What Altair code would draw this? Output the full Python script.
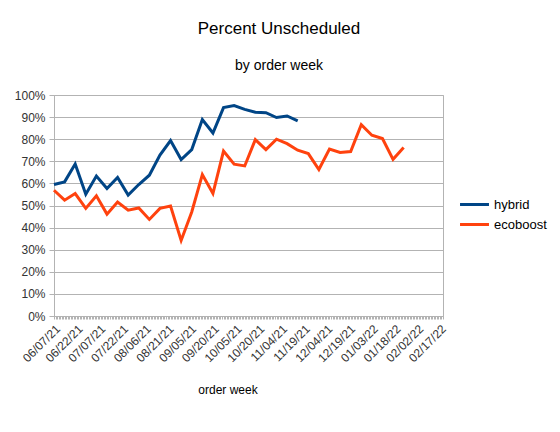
import altair as alt
import pandas as pd

weeks = ["2021-06-07", "2021-06-14", "2021-06-21", "2021-06-28", "2021-07-05", "2021-07-12",
         "2021-07-19", "2021-07-26", "2021-08-02", "2021-08-09", "2021-08-16", "2021-08-23",
         "2021-08-30", "2021-09-06", "2021-09-13", "2021-09-20", "2021-09-27", "2021-10-04",
         "2021-10-11", "2021-10-18", "2021-10-25", "2021-11-01", "2021-11-08", "2021-11-15",
         "2021-11-22", "2021-11-29", "2021-12-06", "2021-12-13", "2021-12-20", "2021-12-27",
         "2022-01-03", "2022-01-10", "2022-01-17", "2022-01-24"]

hybrid = [59.5, 60.7, 68.8, 55.1, 63.3, 57.7, 62.7, 54.7, 59.5, 63.7, 72.8, 79.4,
          70.8, 75.3, 88.9, 82.8, 94.3, 95.2, 93.5, 92.2, 92.0, 89.8, 90.5, 88.3]

ecoboost = [56.9, 52.4, 55.4, 48.7, 54.4, 46.1, 51.6, 47.9, 48.9, 43.7, 48.7, 49.8,
            34.2, 47.1, 64.0, 55.4, 74.6, 68.7, 67.9, 79.8, 75.3, 80.0, 78.0, 75.0,
            73.5, 66.3, 75.5, 74.0, 74.4, 86.6, 81.8, 80.3, 70.9, 76.2]

series = ["hybrid", "ecoboost"]
colors = ["#004586", "#ff420e"]

rows = []
for name, vals in zip(series, [hybrid, ecoboost]):
    for w, v in zip(weeks, vals):
        rows.append({"week": pd.Timestamp(w), "pct": v / 100.0, "series": name})
df = pd.DataFrame(rows)

label_expr = ("(round((datum.value - datetime(2021,5,7)) / 86400000) % 15 == 0) ? "
              "timeFormat(datum.value, '%m/%d/%y') : ''")

chart = alt.Chart(df).mark_line(strokeWidth=3).encode(
    x=alt.X(
        "week:T",
        scale=alt.Scale(domain=[alt.DateTime(year=2021, month=6, date=7),
                                alt.DateTime(year=2022, month=2, date=19)]),
        axis=alt.Axis(
            title="order week",
            tickCount={"interval": "day", "step": 1},
            labelExpr=label_expr,
            labelAngle=-45,
            labelOverlap=False,
            labelFlush=False,
            labelFontSize=12,
            labelColor="#333333",
            labelPadding=4,
            tickSize=3,
            tickColor="#b3b3b3",
            domainColor="#b3b3b3",
            grid=False,
            titleFontSize=12,
            titleFontWeight="normal",
            titleColor="#000000",
            titleX=173.5,
            titleY=77,
            titleAlign="center",
            titleBaseline="alphabetic",
        ),
    ),
    y=alt.Y(
        "pct:Q",
        scale=alt.Scale(domain=[0, 1], nice=False),
        axis=alt.Axis(
            title=None,
            format=".0%",
            values=[0, 0.1, 0.2, 0.3, 0.4, 0.5, 0.6, 0.7, 0.8, 0.9, 1.0],
            labelFontSize=12,
            labelColor="#333333",
            labelPadding=4,
            tickSize=5,
            tickColor="#b3b3b3",
            domainColor="#b3b3b3",
            gridColor="#b3b3b3",
        ),
    ),
    color=alt.Color(
        "series:N",
        scale=alt.Scale(domain=series, range=colors),
        legend=alt.Legend(
            title=None,
            orient="none",
            legendX=413,
            legendY=102,
            symbolType="M-2.5,0H2.5",
            symbolSize=134,
            symbolStrokeWidth=3,
            labelOffset=12,
            labelFontSize=13,
            labelColor="#000000",
            rowPadding=5,
            padding=0,
        ),
    ),
).properties(
    width=389,
    height=221,
    title=alt.Title(
        "Percent Unscheduled",
        subtitle="by order week",
        fontSize=17,
        fontWeight="normal",
        subtitleFontSize=14,
        subtitleColor="#000000",
        color="#000000",
        anchor="middle",
        frame="group",
        dx=30.5,
        offset=15,
        subtitlePadding=21,
    ),
    autosize=alt.AutoSizeParams(type="none"),
    padding={"left": 46, "top": 87, "right": 108, "bottom": 100},
).configure(
    font="Liberation Sans",
).configure_view(
    stroke="#b3b3b3",
)

chart.save("out.html", embed_options={"renderer": "svg", "actions": False})
